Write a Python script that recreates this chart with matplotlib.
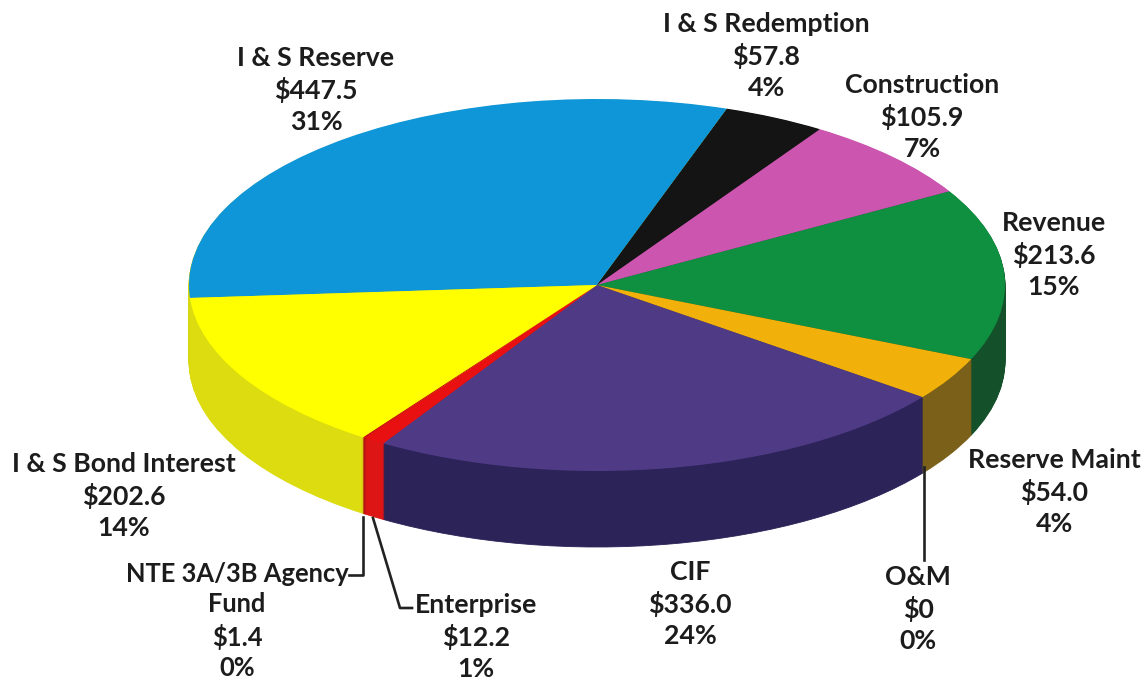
import matplotlib
matplotlib.use("Agg")
import matplotlib.pyplot as plt

categories = ["I & S Reserve", "I & S Redemption", "Construction", "Revenue", "Reserve Maint",
              "O&M", "CIF", "Enterprise", "NTE 3A/3B Agency\nFund", "I & S Bond Interest"]
values = [447.5, 57.8, 105.9, 213.6, 54.0, 0, 336.0, 12.2, 1.4, 202.6]
value_labels = ["$447.5", "$57.8", "$105.9", "$213.6", "$54.0", "$0", "$336.0", "$12.2", "$1.4", "$202.6"]
pct_labels = ["31%", "4%", "7%", "15%", "4%", "0%", "24%", "1%", "0%", "14%"]

top_colors = ["#0F96D8", "#141414", "#CC55B0", "#0F9040", "#F2B00A", "#777777", "#4F3A86", "#E81010", "#D01010", "#FFFF00"]
side_colors = ["#D8D810", "#0A0A0A", "#803070", "#14502A", "#7A6018", "#444444", "#2C2358", "#DD1515", "#B01010", "#DCDC10"]
label_xy = [(316, 90), (766, 56), (922, 117), (1054, 255), (1054, 492), (918, 609), (690, 604), (476, 637), (237, 621), (124, 496)]
label_sizes = [19.2, 19.2, 19.2, 19.2, 19.2, 19.2, 19.2, 19.2, 18.4, 19.2]

W, H = 1145, 681
CX, CY, RX, RY, DEPTH = 597, 285, 408, 186, 76


def px(x, y):
    return (x - CX) / RX, (CY - y) / RY


plt.rcParams["font.family"] = ["Lato", "DejaVu Sans"]
fig = plt.figure(figsize=(W / 100, H / 100), dpi=100)
ax = fig.add_axes([0, 0, 1, 1])

for d in range(DEPTH, 0, -1):
    wedges, _ = ax.pie(values, colors=side_colors, startangle=184, counterclock=False,
                       center=(0, -d / RY), radius=1, wedgeprops=dict(linewidth=0.6))
    for w, c in zip(wedges, side_colors):
        w.set_edgecolor(c)
ax.pie(values, colors=top_colors, startangle=184, counterclock=False,
       center=(0, 0), radius=1, wedgeprops=dict(linewidth=0))
ax.set_aspect("auto")
ax.set_xlim((0 - CX) / RX, (W - CX) / RX)
ax.set_ylim((CY - H) / RY, CY / RY)
ax.axis("off")

for cat, val, pct, size, (x, y) in zip(categories, value_labels, pct_labels, label_sizes, label_xy):
    xx, yy = px(x, y)
    ax.text(xx, yy, f"{cat}\n{val}\n{pct}", ha="center", va="center", fontsize=size,
            fontweight="bold", color="#1c1c1c", linespacing=1.33, zorder=10)

leaders = [[(924, 467), (924, 560)],
           [(363, 517), (363, 575), (349, 575)],
           [(373, 518), (400, 608), (412, 608)]]
for line in leaders:
    pts = [px(*p) for p in line]
    ax.plot([p[0] for p in pts], [p[1] for p in pts], color="#222222", lw=1.9, zorder=9)

fig.savefig("out.png", dpi=100)
